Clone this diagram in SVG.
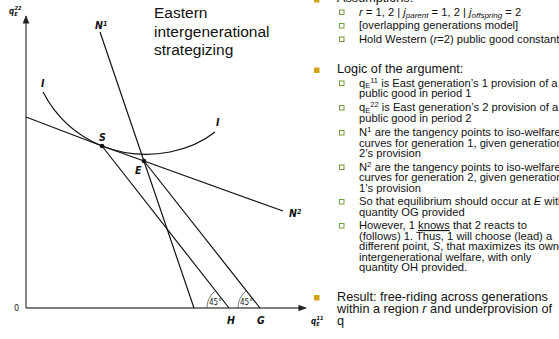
<svg xmlns="http://www.w3.org/2000/svg" width="559" height="339" viewBox="0 0 559 339">
<style>
.ax{stroke:#555;stroke-width:1.4;fill:none}
.ln{stroke:#111;stroke-width:1.2;fill:none}
.arc{stroke:#444;stroke-width:0.7;fill:none}
.lbl{font-family:"Liberation Sans Narrow","DejaVu Sans Condensed","Liberation Sans",sans-serif;font-stretch:condensed;font-weight:bold;font-style:italic;fill:#111;font-size:10.5px}
.deg{font-family:"Liberation Sans Narrow","DejaVu Sans Condensed","Liberation Sans",sans-serif;font-stretch:condensed;fill:#222;font-size:8px}
.title{font-family:"Liberation Sans",Arial,sans-serif;font-size:15.5px;fill:#111}
.main{font-family:"Liberation Sans",Arial,sans-serif;font-size:12.7px;fill:#111}
.sub{font-family:"Liberation Sans",Arial,sans-serif;font-size:11.2px;fill:#111}
.gb{fill:#D2A41C}
.hb{fill:none;stroke:#6E9B3A;stroke-width:1}
</style>
<defs>
<marker id="ah" viewBox="0 0 10 10" refX="9" refY="5" markerWidth="6" markerHeight="6" orient="auto">
<path d="M0,1 L10,5 L0,9 Z" fill="#222"/>
</marker>
</defs>

<g id="axes">
<line class="ax" x1="26" y1="308" x2="26" y2="16" marker-end="url(#ah)"/>
<line class="ax" x1="26" y1="308" x2="306" y2="308" marker-end="url(#ah)"/>
<text class="lbl" x="9" y="14" style="font-size:8px">q<tspan dy="2" style="font-size:5.5px">E</tspan><tspan dx="-3" dy="-6" style="font-size:5.5px">22</tspan></text>
<text class="lbl" x="311" y="324" style="font-size:8px">q<tspan dy="2" style="font-size:5.5px">E</tspan><tspan dx="-3" dy="-6" style="font-size:5.5px">11</tspan></text>
<text class="deg" x="14" y="311" style="font-size:9px">0</text>
</g>

<g id="connectors">
<line id="N1-line" class="ln" x1="100" y1="32" x2="194" y2="308"/>
<polyline id="N2-line" class="ln" points="26,117 102,146 144,161 283,211"/>
<path id="I-curve" class="ln" d="M43 92 C55 115,75 135,102 146 C125 155,150 156,170 152 C190 148,205 140,215 132"/>
<line id="S-H" class="ln" x1="102" y1="146" x2="229" y2="308"/>
<line id="E-G" class="ln" x1="144" y1="161" x2="260" y2="308"/>
<path class="arc" d="M207 308 A22 22 0 0 1 215.4 290.7"/>
<path class="arc" d="M238 308 A22 22 0 0 1 246.4 290.7"/>
</g>

<g id="node-S">
<circle cx="102" cy="146" r="2.3" fill="#111"/>
<text class="lbl" x="99" y="141">S</text>
</g>
<g id="node-E">
<circle cx="144" cy="161" r="2.3" fill="#111"/>
<text class="lbl" x="135" y="174">E</text>
</g>
<g id="node-H"><text class="lbl" x="227" y="324">H</text></g>
<g id="node-G"><text class="lbl" x="257" y="324">G</text></g>
<g id="label-N1"><text class="lbl" x="95" y="29">N<tspan dy="-3" style="font-size:7px">1</tspan></text></g>
<g id="label-N2"><text class="lbl" x="289" y="217">N<tspan dy="-3" style="font-size:7px">2</tspan></text></g>
<g id="label-I1"><text class="lbl" x="41" y="87">I</text></g>
<g id="label-I2"><text class="lbl" x="216" y="126">I</text></g>
<g id="angles">
<text class="deg" x="209" y="305">45°</text>
<text class="deg" x="240" y="305">45°</text>
</g>

<g id="title">
<text class="title" x="154" y="18">Eastern</text>
<text class="title" x="154" y="36.5">intergenerational</text>
<text class="title" x="154" y="55">strategizing</text>
</g>

<g id="notes">
<rect class="gb" x="314" y="-3" width="5.5" height="5.5"/>
<text class="main" x="337" y="2">Assumptions:</text>

<rect class="hb" x="339.5" y="10" width="4.5" height="4.5"/>
<text class="sub" x="359" y="15.5"><tspan font-style="italic">r</tspan> = 1, 2 | <tspan font-style="italic">j</tspan><tspan font-style="italic" dy="2" style="font-size:8px">parent</tspan><tspan dy="-2"> = 1, 2 | </tspan><tspan font-style="italic">j</tspan><tspan font-style="italic" dy="2" style="font-size:8px">offspring</tspan><tspan dy="-2"> = 2</tspan></text>
<rect class="hb" x="339.5" y="23.5" width="4.5" height="4.5"/>
<text class="sub" x="359" y="29">[overlapping generations model]</text>
<rect class="hb" x="339.5" y="37" width="4.5" height="4.5"/>
<text class="sub" x="359" y="42.5">Hold Western (<tspan font-style="italic">r</tspan>=2) public good constant</text>

<rect class="gb" x="314" y="67.5" width="5.5" height="5.5"/>
<text class="main" x="337" y="73">Logic of the argument:</text>

<rect class="hb" x="339.5" y="81" width="4.5" height="4.5"/>
<text class="sub" x="359" y="86.5">q<tspan dy="1.5" style="font-size:7.5px">E</tspan><tspan dy="-5.5" style="font-size:7.5px">11</tspan><tspan dy="4"> is East generation’s 1 provision of a</tspan></text>
<text class="sub" x="359" y="97">public good in period 1</text>

<rect class="hb" x="339.5" y="105.5" width="4.5" height="4.5"/>
<text class="sub" x="359" y="111">q<tspan dy="1.5" style="font-size:7.5px">E</tspan><tspan dy="-5.5" style="font-size:7.5px">22</tspan><tspan dy="4"> is East generation’s 2 provision of a</tspan></text>
<text class="sub" x="359" y="121.5">public good in period 2</text>

<rect class="hb" x="339.5" y="130.5" width="4.5" height="4.5"/>
<text class="sub" x="359" y="136">N<tspan dy="-4" style="font-size:8px">1</tspan><tspan dy="4"> are the tangency points to iso-welfare</tspan></text>
<text class="sub" x="359" y="146.5">curves for generation 1, given generation</text>
<text class="sub" x="359" y="157">2’s provision</text>

<rect class="hb" x="339.5" y="165" width="4.5" height="4.5"/>
<text class="sub" x="359" y="170.5">N<tspan dy="-4" style="font-size:8px">2</tspan><tspan dy="4"> are the tangency points to iso-welfare</tspan></text>
<text class="sub" x="359" y="181">curves for generation 2, given generation</text>
<text class="sub" x="359" y="191.5">1’s provision</text>

<rect class="hb" x="339.5" y="199.5" width="4.5" height="4.5"/>
<text class="sub" x="359" y="205">So that equilibrium should occur at <tspan font-style="italic">E</tspan> with</text>
<text class="sub" x="359" y="215.5">quantity OG provided</text>

<rect class="hb" x="339.5" y="223.5" width="4.5" height="4.5"/>
<text class="sub" x="359" y="229">However, 1 <tspan text-decoration="underline">knows</tspan> that 2 reacts to</text>
<text class="sub" x="359" y="239.5">(follows) 1. Thus, 1 will choose (lead) a</text>
<text class="sub" x="359" y="250">different point, <tspan font-style="italic">S</tspan>, that maximizes its own</text>
<text class="sub" x="359" y="260.5">intergenerational welfare, with only</text>
<text class="sub" x="359" y="271">quantity OH provided.</text>

<rect class="gb" x="314" y="295" width="5.5" height="5.5"/>
<text class="main" x="337" y="301">Result: free-riding across generations</text>
<text class="main" x="337" y="312.5">within a region <tspan font-style="italic">r</tspan>  and underprovision of</text>
<text class="main" x="337" y="325">q</text>
</g>
</svg>
